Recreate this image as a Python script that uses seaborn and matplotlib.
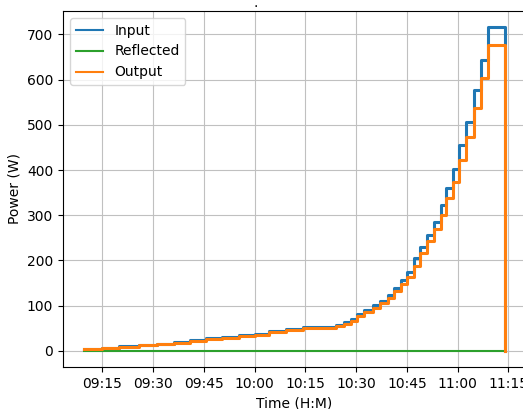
import matplotlib
matplotlib.use("Agg")
import matplotlib.pyplot as plt
import matplotlib.dates as mdates
import seaborn as sns
import pandas as pd

# Step start times (same for all series); last entry is the shut-off
step_times = [
    "09:09:36", "09:14:48", "09:19:54", "09:25:48", "09:31:12", "09:36:06",
    "09:41:00", "09:45:30", "09:50:24", "09:55:18", "10:00:12", "10:04:24",
    "10:09:18", "10:14:12", "10:24:00", "10:26:30", "10:28:30", "10:30:24",
    "10:32:24", "10:34:54", "10:37:12", "10:39:18", "10:41:18", "10:43:18",
    "10:45:06", "10:47:00", "10:49:00", "10:51:00", "10:53:00", "10:55:00",
    "10:56:42", "10:58:42", "11:00:24", "11:02:36", "11:04:48", "11:07:00",
    "11:09:00", "11:14:00",
]
input_power = [
    4, 7, 10, 13, 16, 20, 24, 28, 31, 34, 37, 44, 48, 52, 57, 63, 71, 82,
    91, 101, 111, 124, 140, 157, 174, 205, 229, 257, 285, 323, 360, 403,
    455, 507, 576, 644, 716, 0,
]
reflected_power = [0] * len(step_times)
output_power = [
    3, 6, 9, 12, 15, 18, 22, 26, 29, 32, 35, 42, 46, 50, 54, 60, 67, 78,
    86, 95, 105, 117, 132, 148, 163, 188, 217, 242, 270, 300, 337, 374,
    422, 474, 537, 603, 677, 0,
]

times = pd.to_datetime(["2024-01-01 " + t for t in step_times])
df = pd.DataFrame({
    "Time": times,
    "Input": input_power,
    "Reflected": reflected_power,
    "Output": output_power,
})

fig = plt.figure(figsize=(5.23, 4.09), dpi=100)
ax = fig.add_axes([63 / 523, 42 / 409, 463 / 523, 356 / 409])

series = [("Input", "#1f77b4", 2.2), ("Reflected", "#2ca02c", 1.5), ("Output", "#ff7f0e", 2.2)]
for name, color, lw in series:
    sns.lineplot(data=df, x="Time", y=name, ax=ax, color=color, label=name,
                 drawstyle="steps-post", linewidth=lw, estimator=None, sort=False)

ax.xaxis.set_major_locator(mdates.MinuteLocator(byminute=[0, 15, 30, 45]))
ax.xaxis.set_major_formatter(mdates.DateFormatter("%H:%M"))
ax.set_xlabel("Time (H:M)")
ax.set_ylabel("Power (W)")
ax.grid(True, color="#c0c0c0")
leg = ax.legend(loc="upper left")
for h in leg.get_lines():
    h.set_linewidth(1.5)
fig.text(256 / 523, 1 - 7 / 409, ".", ha="center", va="baseline", fontsize=10)

fig.savefig("out.png", dpi=100)
